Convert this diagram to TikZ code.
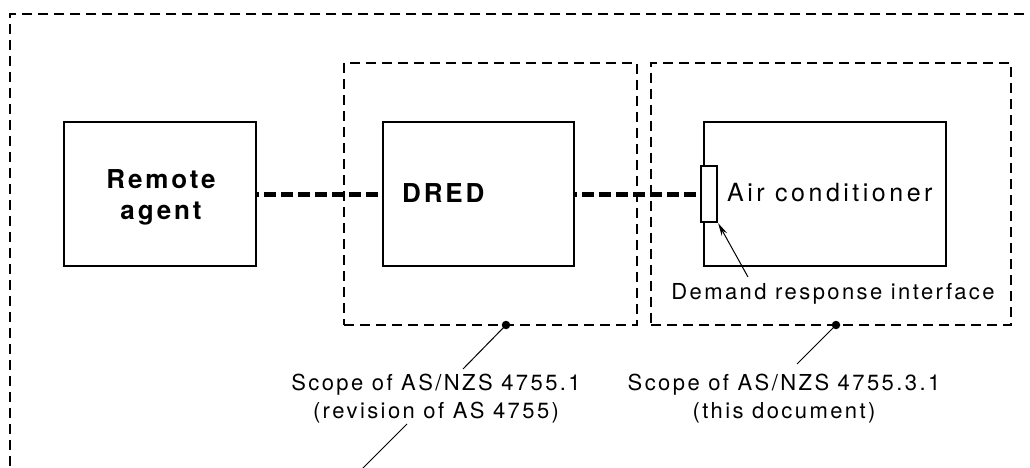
\documentclass[tikz,border=0pt]{standalone}
\usepackage{fontspec}
\setmainfont{TeX Gyre Heros}
\newfontfamily\lblfont[LetterSpace=11]{TeX Gyre Heros}
\newfontfamily\acfont[LetterSpace=14]{TeX Gyre Heros}
\newfontfamily\boxfont[LetterSpace=11]{TeX Gyre Heros}
\usetikzlibrary{arrows.meta}
\tikzset{
  scopebox/.style={draw, line width=2.7pt, dash pattern=on 10pt off 6pt, inner sep=0pt},
  unitbox/.style={draw, line width=2.6pt, inner sep=0pt},
  link/.style={line width=5pt, dash pattern=on 12pt off 5pt, dash phase=10pt},
  leader/.style={line width=1pt},
  scopedot/.style={circle, fill, inner sep=0pt, minimum size=8.5pt},
  boldlabel/.style={font=\boxfont\bfseries\fontsize{26}{31}\selectfont, inner sep=0pt},
  plainlabel/.style={font=\lblfont\fontsize{22}{28}\selectfont, inner sep=0pt},
  aclabel/.style={font=\acfont\fontsize{25}{28}\selectfont, inner sep=0pt},
}
\begin{document}
\begin{tikzpicture}[x=1pt,y=-1pt]
\useasboundingbox (0,0) rectangle (1030,468);
\clip (0,0) rectangle (1030,468);
% outer scope (cropped)
\coordinate (outTR) at (1040,14);
\coordinate (outBL) at (10,480);
\draw[line width=2.7pt, dash pattern=on 10pt off 6pt] (outTR) -| (outBL);
% scope boxes
\node[scopebox, minimum width=293pt, minimum height=262pt] (s1) at (490.5,194) {};
\node[scopebox, minimum width=360pt, minimum height=262pt] (s2) at (831,194) {};
% units
\node[unitbox, minimum width=192pt, minimum height=144pt] (ra) at (160,194) {};
\node[unitbox, minimum width=191pt, minimum height=144pt] (dred) at (478.5,194) {};
\node[unitbox, minimum width=242pt, minimum height=144pt] (ac) at (825,194) {};
\node[draw, line width=2.2pt, fill=white, minimum width=16pt, minimum height=56pt, inner sep=0pt] (iface) at (709,194) {};
% texts
\node[boldlabel, align=center, anchor=base] (ratext) at (161,219) {Remote\\agent};
\node[boldlabel, anchor=base west] (dredtext) at (402,202) {DRED};
\node[aclabel, anchor=base west] (actext) at (727,201) {Air conditioner};
\node[plainlabel, anchor=base] (drilabel) at (833,299) {Demand response interface};
\node[plainlabel, align=center, anchor=base] (s1label) at (436,418) {Scope of AS/NZS 4755.1\\(revision of AS 4755)};
\node[plainlabel, align=center, anchor=base] (s2label) at (784,418) {Scope of AS/NZS 4755.3.1\\(this document)};
% links
\draw[link] (ra.east) -- (dred.west);
\draw[link] (dred.east) -- (iface.west);
% pointer to interface
\coordinate (ptr) at (748,277);
\draw[leader, -{Stealth[length=13pt, width=6pt]}] (ptr) -- (iface.south east);
% scope dots and leaders
\node[scopedot] (d1) at (506,325) {};
\node[scopedot] (d2) at (836,325) {};
\coordinate (l1end) at (463,369);
\coordinate (l2end) at (797,364);
\draw[leader] (d1.center) -- (l1end);
\draw[leader] (d2.center) -- (l2end);
\coordinate (l3start) at (407,424);
\coordinate (l3end) at (361,470);
\draw[leader] (l3start) -- (l3end);
\end{tikzpicture}
\end{document}
